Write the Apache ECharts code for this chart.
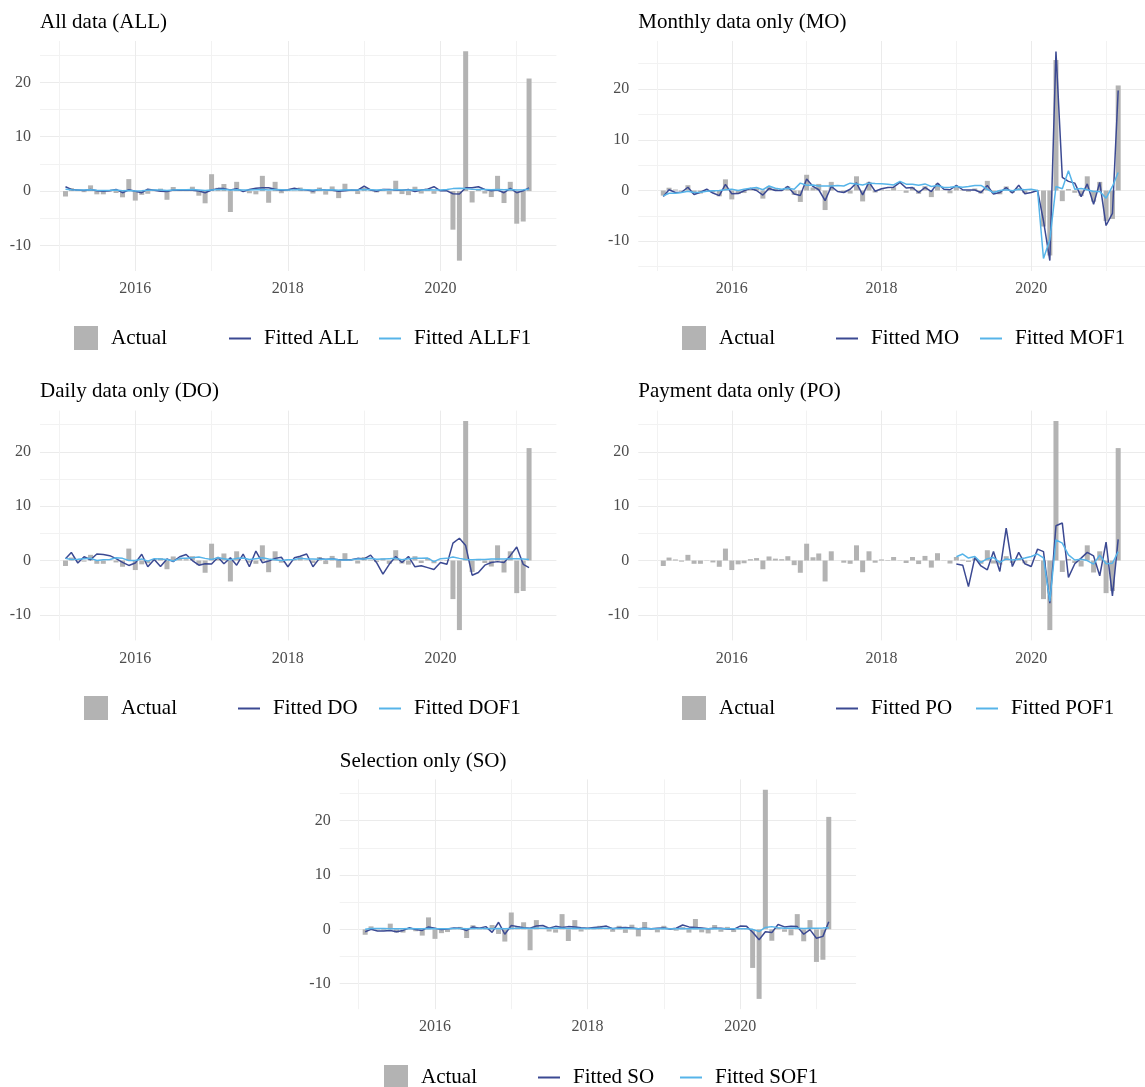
<!DOCTYPE html>
<html>
<head>
<meta charset="utf-8">
<script src="https://cdn.jsdelivr.net/npm/echarts@6/dist/echarts.min.js"></script>
<style>html,body{margin:0;padding:0;background:#fff}#c{width:1145px;height:1087px}</style>
</head>
<body>
<div id="c"></div>
<script>
// ---- data: monthly, first month Feb 2015, 74 months ----
const startYear = 2015;
const startMonth = 2;
const actual = [-1.0, 0.55, 0.2, -0.2, 1.05, -0.6, -0.6, -0.05, -0.35, -1.15,
  2.2, -1.75, -0.7, -0.5, 0.25, 0.45, -1.6, 0.75, 0.35, 0.25,
  0.8, -0.85, -2.25, 3.1, 0.6, 1.3, -3.85, 1.7, 0.0, -0.4,
  -0.6, 2.8, -2.15, 1.7, -0.4, 0.2, 0.1, 0.65, 0.05, -0.45,
  0.65, -0.65, 0.85, -1.3, 1.35, 0.05, -0.55, 0.65, 0.15, -0.25,
  0.4, -0.6, 1.9, -0.55, -0.75, 0.8, -0.45, 0.45, -0.5, 0.05,
  0.1, -7.1, -12.8, 25.7, -2.1, 0.3, -0.45, -1.1, 2.8, -2.2,
  1.7, -6.0, -5.6, 20.7];
const fittedALL = [0.8, 0.3, 0.2, 0.1, 0.3, 0.05, -0.05, 0.05, 0.3, -0.3,
  0.25, -0.05, -0.3, 0.35, 0.15, -0.05, -0.1, 0.2, 0.15, 0.2,
  0.15, 0.0, -0.3, 0.2, 0.45, 0.45, 0.2, 0.45, -0.1, 0.3,
  0.5, 0.6, 0.6, 0.35, 0.1, 0.25, 0.5, 0.3, 0.2, 0.0,
  0.3, 0.2, 0.15, -0.05, 0.05, 0.2, 0.15, 0.9, 0.2, -0.05,
  0.3, 0.3, 0.2, 0.15, 0.3, -0.1, 0.2, 0.35, 0.8, 0.05,
  0.05, -0.5, -0.55, 0.6, 0.6, 0.8, 0.3, 0.05, 0.2, -0.3,
  0.5, -0.3, 0.05, 0.6];
const fittedALLF1 = [0.35, 0.25, 0.2, 0.2, 0.25, 0.15, 0.1, 0.15, 0.2, 0.05,
  0.1, 0.0, 0.05, 0.15, 0.2, 0.2, 0.1, 0.2, 0.25, 0.25,
  0.3, 0.2, 0.1, 0.2, 0.3, 0.3, 0.2, 0.25, 0.2, 0.2,
  0.25, 0.3, 0.2, 0.3, 0.25, 0.2, 0.25, 0.3, 0.25, 0.2,
  0.25, 0.2, 0.25, 0.15, 0.25, 0.2, 0.2, 0.3, 0.25, 0.2,
  0.25, 0.2, 0.3, 0.2, 0.2, 0.25, 0.2, 0.25, 0.2, 0.2,
  0.3, 0.45, 0.5, 0.45, 0.35, 0.3, 0.3, 0.25, 0.3, 0.25,
  0.3, 0.2, 0.25, 0.35];
const fittedMO = [-1.2, 0.15, -0.4, -0.35, 0.65, -0.8, -0.35, 0.25, -0.5, -1.0,
  1.2, -0.65, -0.6, -0.05, 0.4, 0.0, -0.9, 0.4, 0.0, 0.0,
  0.8, -0.7, -1.0, 2.25, 0.8, 0.15, -2.0, 0.8, -0.2, -0.4,
  0.25, 1.5, -0.85, 1.65, -0.15, 0.35, 0.6, 0.65, 1.6, 0.5,
  0.6, -0.4, 0.6, -0.2, 1.45, 0.25, 0.15, 1.0, 0.15, 0.1,
  0.1, -0.4, 1.0, -0.7, -0.4, 0.6, -0.5, 1.05, -0.65, -0.4,
  0.0, -6.0, -13.8, 27.4, 2.6, 1.8, 1.45, -1.2, 1.3, -2.7,
  1.6, -6.9, -4.5, 19.7];
const fittedMOF1 = [-1.05, -0.55, -0.55, -0.4, -0.15, -0.4, -0.35, -0.15, -0.05, 0.0,
  0.15, 0.25, 0.0, 0.25, 0.45, 0.6, 0.15, 0.9, 0.45, 0.25,
  0.45, 0.25, 1.45, 1.05, 1.1, 0.9, 0.9, 0.9, 1.0, 0.9,
  1.45, 1.3, 1.1, 1.45, 1.4, 1.35, 1.25, 1.1, 1.8, 1.25,
  1.25, 1.05, 1.3, 0.8, 1.0, 0.6, 0.65, 0.8, 0.65, 0.8,
  1.0, 1.0, 0.25, -0.4, 0.0, 0.15, -0.05, 0.25, 0.15, 0.25,
  0.0, -13.4, -9.7, 0.8, 0.35, 3.9, 0.25, 0.4, 0.15, -0.2,
  -0.2, -1.5, 0.8, 3.55];
const fittedDO = [0.35, 1.5, -0.45, 0.7, 0.15, 1.2, 1.1, 0.9, 0.35, -0.35,
  -0.9, -0.45, 1.15, -1.15, 0.2, -1.1, 0.3, -0.2, 0.7, 1.1,
  0.0, -0.85, -0.6, -0.65, 0.6, -0.6, 0.5, -0.85, 1.2, -1.15,
  1.75, -0.4, -0.1, 0.4, 0.6, -1.15, 0.5, 0.8, 1.2, -1.15,
  0.4, 0.2, 0.3, 0.15, 0.15, 0.15, 0.4, 0.3, 1.0, -0.35,
  -2.5, -0.7, 0.75, -0.35, 0.75, -1.15, -0.95, -1.3, -1.65, -0.35,
  -0.7, 3.2, 4.1, 2.75, -2.7, -2.2, -0.85, -0.35, -0.2, -0.35,
  0.9, 2.5, -0.7, -1.3];
const fittedDOF1 = [0.4, 0.2, 0.25, 0.35, 0.4, 0.0, 0.15, 0.2, 0.5, 0.4,
  0.0, 0.0, 0.3, -0.1, 0.35, 0.3, 0.2, -0.1, 0.4, 0.4,
  0.5, 0.65, 0.4, 0.2, 0.5, 0.35, 0.15, 0.4, 0.45, 0.2,
  0.35, 0.5, 0.3, 0.15, 0.0, 0.15, 0.2, 0.4, 0.3, 0.3,
  0.25, 0.25, 0.3, 0.15, 0.1, 0.15, 0.3, 0.3, 0.4, 0.25,
  0.3, 0.35, 0.4, 0.15, 0.35, 0.4, 0.4, 0.45, -0.2, 0.35,
  0.4, 0.65, 0.4, 0.2, 0.15, 0.2, 0.2, 0.3, 0.3, 0.3,
  0.35, 0.35, 0.3, 0.2];
// payment-data fits start in Jan 2019 (month index 47)
const poStartIndex = 47;
const fittedPO = [-0.65, -0.85, -4.8, 0.55, -1.0, -1.7, 1.65, -2.0, 5.95, -1.1,
  1.5, -0.6, -1.1, 2.1, 1.65, -7.85, 6.4, 6.9, -3.1, -0.6,
  0.45, 1.5, 0.85, -2.8, 3.4, -6.5, 3.9];
const fittedPOF1 = [0.7, 1.2, 0.45, 0.75, -0.35, 0.35, 0.55, -0.35, 0.3, 0.1,
  0.25, 0.45, 0.75, 1.2, 0.5, -7.5, 3.8, 3.2, 1.05, 0.1,
  0.25, 0.0, -0.65, 1.0, -0.6, -0.5, 1.65];
const fittedSO = [-0.45, 0.0, -0.3, -0.3, -0.2, -0.45, -0.2, 0.3, -0.05, -0.2,
  0.45, 0.2, -0.05, 0.05, 0.25, 0.2, -0.2, 0.45, 0.2, 0.5,
  -0.55, 1.3, -0.9, 0.7, 0.5, 0.3, 0.2, 0.6, 0.7, 0.2,
  0.55, 0.35, 0.5, 0.45, 0.3, 0.2, 0.35, 0.45, 0.6, 0.1,
  0.3, 0.35, 0.25, 0.1, 0.2, 0.1, 0.2, 0.25, 0.05, 0.2,
  0.8, 0.45, 0.35, 0.25, 0.1, 0.2, 0.2, 0.05, 0.0, 0.6,
  0.55, -0.55, -1.9, -0.45, -0.6, 0.9, 0.45, 0.55, 0.5, -0.9,
  -0.05, -1.65, -1.3, 1.4];
const fittedSOF1 = [0.0, 0.15, 0.15, 0.15, 0.1, 0.1, 0.12, 0.15, 0.12, 0.1,
  0.15, 0.12, 0.1, 0.12, 0.15, 0.15, 0.1, 0.15, 0.15, 0.15,
  0.12, 0.15, 0.1, 0.15, 0.2, 0.2, 0.15, 0.2, 0.2, 0.15,
  0.2, 0.2, 0.15, 0.2, 0.15, 0.15, 0.15, 0.2, 0.2, 0.15,
  0.15, 0.15, 0.15, 0.1, 0.15, 0.12, 0.12, 0.15, 0.12, 0.12,
  0.15, 0.12, 0.15, 0.12, 0.12, 0.15, 0.12, 0.12, 0.1, 0.1,
  0.1, 0.0, -0.4, 0.35, 0.5, 0.3, 0.2, 0.2, 0.2, 0.15,
  0.2, 0.2, 0.25, 0.3];
const xTickLabels = [2016, 2018, 2020];
const xMinorTicks = [2015, 2017, 2019, 2021];
const yTickLabels = [-10, 0, 10, 20];
const yMinorTicks = [-15, -5, 5, 15, 25];

// ---- styling / layout ----
const FONT = '"Liberation Serif", "DejaVu Serif", serif';
const C_BAR = '#B3B3B3', C_FIT = '#3B4992', C_F1 = '#56B4E9';
const X_MIN = 2014.751, X_MAX = 2021.52;
const PW = 516.4;

function decYear(i) {
  const mm = startMonth - 1 + i;
  const y = startYear + Math.floor(mm / 12);
  const m = mm % 12;
  const t0 = Date.UTC(y, 0, 1), t1 = Date.UTC(y + 1, 0, 1);
  return y + (Date.UTC(y, m, 1) - t0) / (t1 - t0);
}
const xs = actual.map((_, i) => decYear(i));

const panels = [
  {title: 'All data (ALL)', key: 'ALL', fit: fittedALL, f1: fittedALLF1, offset: 0,
   left: 40, top: 41, h: 230, ymin: -14.7, ymax: 27.6, titleTop: 12, legY: 338, legX: [74, 229, 379]},
  {title: 'Monthly data only (MO)', key: 'MO', fit: fittedMO, f1: fittedMOF1, offset: 0,
   left: 638.3, top: 41, h: 230, ymin: -15.86, ymax: 29.46, titleTop: 12, legY: 338, legX: [682, 836, 980]},
  {title: 'Daily data only (DO)', key: 'DO', fit: fittedDO, f1: fittedDOF1, offset: 0,
   left: 40, top: 410.6, h: 229.8, ymin: -14.7, ymax: 27.6, titleTop: 381, legY: 708, legX: [84, 238, 379]},
  {title: 'Payment data only (PO)', key: 'PO', fit: fittedPO, f1: fittedPOF1, offset: poStartIndex,
   left: 638.3, top: 410.6, h: 229.8, ymin: -14.7, ymax: 27.6, titleTop: 381, legY: 708, legX: [682, 836, 976]},
  {title: 'Selection only (SO)', key: 'SO', fit: fittedSO, f1: fittedSOF1, offset: 0,
   left: 339.7, top: 779.4, h: 229.8, ymin: -14.7, ymax: 27.6, titleTop: 751, legY: 1077, legX: [384, 538, 680]}
];

const grid = [], xAxis = [], yAxis = [], series = [], legend = [], title = [];
const tickText = {fontFamily: FONT, fontSize: 16, color: '#4D4D4D'};
const legText = {fontFamily: FONT, fontSize: 21, color: '#000', padding: [0, 0, 0, 8]};

panels.forEach((p, k) => {
  grid.push({left: p.left, top: p.top, width: PW, height: p.h, containLabel: false});
  title.push({text: p.title, left: p.left, top: p.titleTop, padding: 0,
    textStyle: {fontFamily: FONT, fontSize: 21, fontWeight: 'normal', color: '#000'}});
  const xMinor = xMinorTicks.filter(v => v > X_MIN && v < X_MAX);
  const yMinor = yMinorTicks.filter(v => v > p.ymin && v < p.ymax);
  xAxis.push({type: 'value', gridIndex: k, min: X_MIN, max: X_MAX, position: 'bottom',
    axisLine: {show: false}, axisTick: {show: false, customValues: xTickLabels},
    axisLabel: Object.assign({customValues: xTickLabels, margin: 10, formatter: v => String(v)}, tickText),
    splitLine: {show: true, lineStyle: {color: '#EBEBEB', width: 1}}});
  xAxis.push({type: 'value', gridIndex: k, min: X_MIN, max: X_MAX, position: 'top',
    axisLine: {show: false}, axisTick: {show: false, customValues: xMinor},
    axisLabel: {show: false}, splitLine: {show: true, lineStyle: {color: '#F2F2F2', width: 1}}});
  yAxis.push({type: 'value', gridIndex: k, min: p.ymin, max: p.ymax, position: 'left',
    axisLine: {show: false}, axisTick: {show: false, customValues: yTickLabels},
    axisLabel: Object.assign({customValues: yTickLabels, margin: 9, formatter: v => String(v)}, tickText),
    splitLine: {show: true, lineStyle: {color: '#EBEBEB', width: 1}}});
  yAxis.push({type: 'value', gridIndex: k, min: p.ymin, max: p.ymax, position: 'right',
    axisLine: {show: false}, axisTick: {show: false, customValues: yMinor},
    axisLabel: {show: false}, splitLine: {show: true, lineStyle: {color: '#F2F2F2', width: 1}}});

  const xi = 2 * k, yi = 2 * k;
  series.push({type: 'bar', name: 'Actual', xAxisIndex: xi, yAxisIndex: yi, barWidth: 5,
    itemStyle: {color: C_BAR}, silent: true,
    data: actual.map((v, i) => [xs[i], v])});
  series.push({type: 'line', name: 'Fitted ' + p.key, xAxisIndex: xi, yAxisIndex: yi,
    symbol: 'none', silent: true, lineStyle: {color: C_FIT, width: 1.5}, itemStyle: {color: C_FIT},
    data: p.fit.map((v, i) => [xs[i + p.offset], v])});
  series.push({type: 'line', name: 'Fitted ' + p.key + 'F1', xAxisIndex: xi, yAxisIndex: yi,
    symbol: 'none', silent: true, lineStyle: {color: C_F1, width: 1.5}, itemStyle: {color: C_F1},
    data: p.f1.map((v, i) => [xs[i + p.offset], v])});

  legend.push({data: [{name: 'Actual', icon: 'rect'}], left: p.legX[0], top: p.legY - 12,
    itemWidth: 24, itemHeight: 24, padding: 0, selectedMode: false, textStyle: legText});
  legend.push({data: [{name: 'Fitted ' + p.key, icon: 'rect'}], left: p.legX[1], top: p.legY - 10,
    itemWidth: 22, itemHeight: 2, padding: 0, selectedMode: false, textStyle: legText});
  legend.push({data: [{name: 'Fitted ' + p.key + 'F1', icon: 'rect'}], left: p.legX[2], top: p.legY - 10,
    itemWidth: 22, itemHeight: 2, padding: 0, selectedMode: false, textStyle: legText});
});

const chart = echarts.init(document.getElementById('c'), null, {renderer: 'canvas'});
chart.setOption({animation: false, backgroundColor: '#fff', title, grid, xAxis, yAxis, series, legend});
</script>
</body>
</html>
